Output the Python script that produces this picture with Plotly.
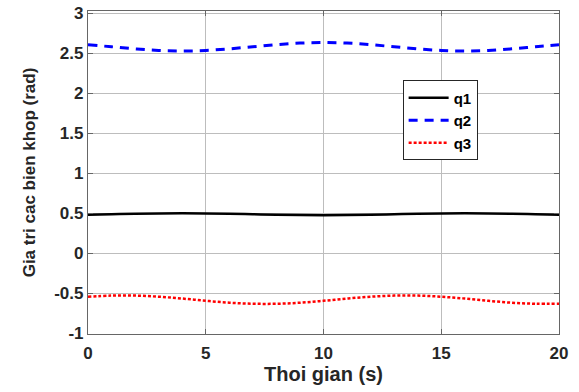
import plotly.graph_objects as go

t = [0, 1, 2, 3, 4, 5, 6, 7, 8, 9, 10, 11, 12, 13, 14, 15, 16, 17, 18, 19, 20]
q1 = [0.479, 0.485, 0.491, 0.495, 0.497, 0.495, 0.491, 0.485, 0.479, 0.475, 0.473,
      0.475, 0.479, 0.485, 0.491, 0.495, 0.497, 0.495, 0.491, 0.485, 0.479]
q2 = [2.604, 2.578, 2.552, 2.532, 2.525, 2.532, 2.552, 2.578, 2.604, 2.624, 2.631,
      2.624, 2.604, 2.578, 2.552, 2.532, 2.525, 2.532, 2.552, 2.578, 2.604]
q3 = [-0.546, -0.532, -0.532, -0.546, -0.569, -0.597, -0.621, -0.634, -0.634, -0.621, -0.597,
      -0.569, -0.546, -0.532, -0.532, -0.546, -0.569, -0.597, -0.621, -0.634, -0.634]

x_ticks = [0, 5, 10, 15, 20]
y_ticks = [-1, -0.5, 0, 0.5, 1, 1.5, 2, 2.5, 3]
y_tick_labels = ["-1", "-0.5", "0", "0.5", "1", "1.5", "2", "2.5", "3"]

fnt = "Liberation Sans, Arial, sans-serif"
txt = "#262626"

fig = go.Figure()
fig.add_trace(go.Scatter(x=t, y=q1, name="q1", mode="lines", line_shape="spline",
                         line=dict(color="black", width=2.5)))
fig.add_trace(go.Scatter(x=t, y=q2, name="q2", mode="lines", line_shape="spline",
                         line=dict(color="#0000ff", width=3, dash="9px,7px")))
fig.add_trace(go.Scatter(x=t, y=q3, name="q3", mode="lines", line_shape="spline",
                         line=dict(color="#ff0000", width=2.5, dash="3px,2px")))

axis_common = dict(
    automargin=False,
    showline=True, linecolor="#666666", linewidth=1.2, mirror="ticks",
    ticks="inside", ticklen=5, tickcolor="#666666",
    showgrid=True, gridcolor="#bdbdbd", gridwidth=1,
    zeroline=False,
    tickfont=dict(family=fnt, size=17, color=txt, weight="bold"),
)

fig.update_xaxes(range=[0, 20], tickvals=x_ticks, ticklabelstandoff=3,
                 title=dict(text="Thoi gian (s)", font=dict(family=fnt, size=20, color=txt, weight="bold"),
                            standoff=4),
                 **axis_common)
fig.update_yaxes(range=[-1.012, 3.025], tickvals=y_ticks, ticktext=y_tick_labels,
                 title=dict(text="Gia tri cac bien khop (rad)", font=dict(family=fnt, size=17, color=txt, weight="bold"),
                            standoff=14),
                 **axis_common)

fig.update_layout(
    width=579, height=392,
    margin=dict(l=88, r=20, t=11, b=58),
    paper_bgcolor="white", plot_bgcolor="white",
    showlegend=True,
    legend=dict(x=0.668, y=0.785, xanchor="left", yanchor="top",
                bgcolor="white", bordercolor="#262626", borderwidth=1,
                font=dict(family=fnt, size=15, color="black", weight="bold"),
                itemwidth=40, tracegroupgap=0),
)

fig.write_html("out.html")
